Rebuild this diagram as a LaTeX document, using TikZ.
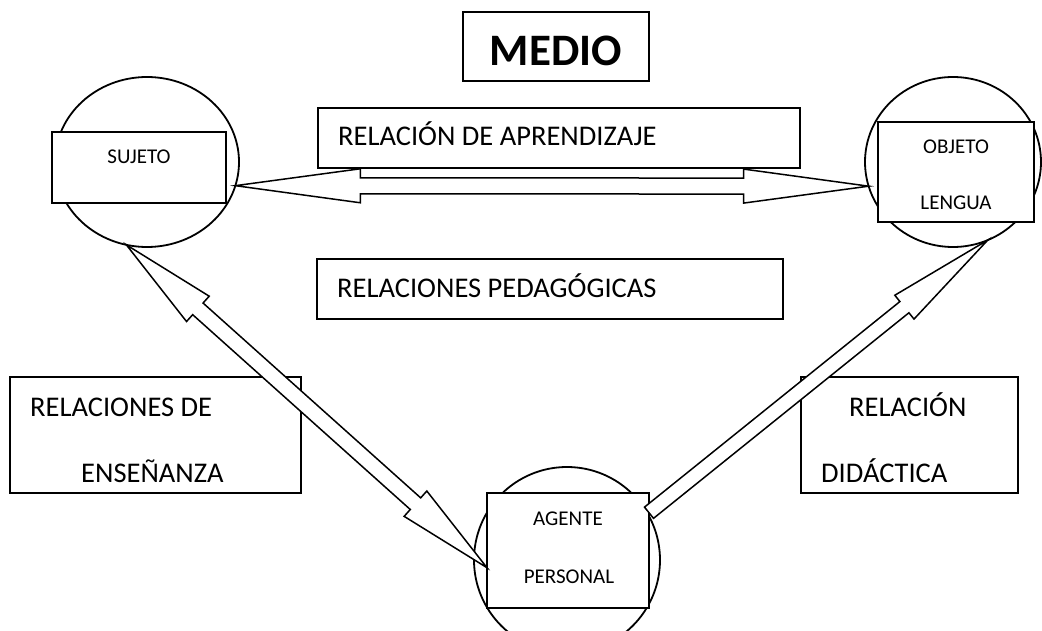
\documentclass[tikz,border=0pt]{standalone}
\usepackage{fontspec}
\setmainfont{Carlito}
\usetikzlibrary{shapes.geometric,calc}

% block arrow with two heads: from, to, head length, head half width, shaft half width
\newcommand{\dblblock}[5]{%
  \path[blockarrow] (#1)
    -- ($(#1)!#3!(#2)!#4!90:(#2)$) -- ($(#1)!#3!(#2)!#5!90:(#2)$)
    -- ($(#2)!#3!(#1)!#5!-90:(#1)$) -- ($(#2)!#3!(#1)!#4!-90:(#1)$)
    -- (#2)
    -- ($(#2)!#3!(#1)!#4!90:(#1)$) -- ($(#2)!#3!(#1)!#5!90:(#1)$)
    -- ($(#1)!#3!(#2)!#5!-90:(#2)$) -- ($(#1)!#3!(#2)!#4!-90:(#2)$)
    -- cycle;}
% block arrow with one head: tail, tip, head length, head half width, shaft half width
\newcommand{\oneblock}[5]{%
  \path[blockarrow] (#2)
    -- ($(#2)!#3!(#1)!#4!90:(#1)$) -- ($(#2)!#3!(#1)!#5!90:(#1)$)
    -- ($(#1)!#5!-90:(#2)$) -- ($(#1)!#5!90:(#2)$)
    -- ($(#2)!#3!(#1)!#5!-90:(#1)$) -- ($(#2)!#3!(#1)!#4!-90:(#1)$)
    -- cycle;}

\begin{document}
\begin{tikzpicture}[x=1pt,y=-1pt,
	circ/.style={ellipse,draw,fill=white,line width=1.8pt,inner sep=0pt,outer sep=0pt},
	box/.style={rectangle,draw,fill=white,line width=1.8pt,inner sep=0pt,outer sep=0pt},
	lbl/.style={inner sep=0pt,anchor=base west,font=\fontsize{28.5}{34}\selectfont},
	small/.style={inner sep=0pt,anchor=base,font=\fontsize{21}{25}\selectfont},
	blockarrow/.style={draw,fill=white,line width=1.5pt,line join=miter}]
	\useasboundingbox (0,0) rectangle (1042,631);
	\clip (0,0) rectangle (1042,631);
	% titulo
	\node[box,minimum width=186pt,minimum height=69pt] (medio) at (556,46.5) {};
	\node[inner sep=0pt,anchor=base,font=\fontsize{45}{54}\selectfont\bfseries] (mediot) at (556,66) {MEDIO};
	% los tres polos
	\node[circ,minimum width=184pt,minimum height=170pt] (sujC) at (147,162) {};
	\node[circ,minimum width=176pt,minimum height=170pt] (objC) at (953,162) {};
	\node[circ,minimum width=186pt,minimum height=186pt] (ageC) at (567,560) {};
	\node[box,minimum width=174pt,minimum height=71pt] (suj) at (139,167.5) {};
	\node[box,minimum width=156pt,minimum height=100pt] (obj) at (956,172) {};
	\node[box,minimum width=162pt,minimum height=115pt] (age) at (568,550.5) {};
	\node[small] (sujt) at (139,164) {SUJETO};
	\node[small] (objt1) at (956,154) {OBJETO};
	\node[small] (objt2) at (956,210) {LENGUA};
	\node[small] (aget1) at (568,525) {AGENTE};
	\node[small] (aget2) at (569,583) {PERSONAL};
	% relacion de aprendizaje
	\dblblock{sujC.-15}{objC.-164}{125pt}{17pt}{8pt}
	\node[box,minimum width=482pt,minimum height=60pt] (aprend) at (559,138) {};
	\node[lbl] (aprendt) at (338,146) {RELACIÓN DE APRENDIZAJE};
	\node[box,minimum width=466pt,minimum height=60pt] (pedag) at (550,289) {};
	\node[lbl] (pedagt) at (337,298) {RELACIONES PEDAGÓGICAS};
	% ensenanza y didactica
	\node[box,minimum width=291pt,minimum height=116pt] (ensen) at (155.5,435) {};
	\node[lbl] (ensent1) at (30,416) {RELACIONES DE};
	\node[lbl] (ensent2) at (81,482) {ENSEÑANZA};
	\node[box,minimum width=217pt,minimum height=116pt] (didac) at (909.5,435) {};
	\node[lbl] (didact1) at (849,416) {RELACIÓN};
	\node[lbl] (didact2) at (821,482) {DIDÁCTICA};
	\dblblock{sujC.-104}{age.-168}{96pt}{17pt}{7.8pt}
	\oneblock{age.25}{objC.-66}{107pt}{15.3pt}{7.2pt}
\end{tikzpicture}
\end{document}
